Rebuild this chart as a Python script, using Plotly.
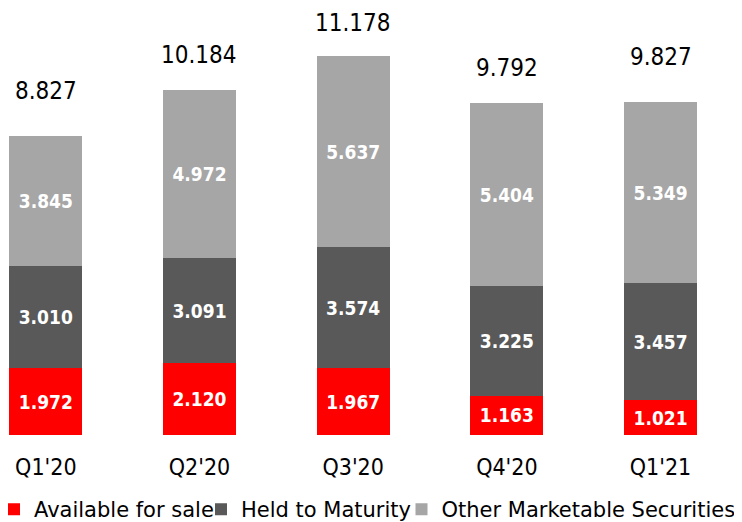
import plotly.graph_objects as go

categories = ["Q1'20", "Q2'20", "Q3'20", "Q4'20", "Q1'21"]
available_for_sale = [1.972, 2.120, 1.967, 1.163, 1.021]
held_to_maturity = [3.010, 3.091, 3.574, 3.225, 3.457]
other_marketable = [3.845, 4.972, 5.637, 5.404, 5.349]
totals = [8.827, 10.184, 11.178, 9.792, 9.827]

FONT_C = "DejaVu Sans Condensed, DejaVu Sans, sans-serif"
FONT_N = "DejaVu Sans, sans-serif"
xs = list(range(len(categories)))
W, H = 734, 514

# label offsets above each bar (px), presentational only
total_label_shift = [45, 35, 33, 35, 45]
# legend block left edges (px), presentational only
legend_left_px = [-14, 193, 393.5]

def fmt(v):
    return f"{v:.3f}"

series = [
    ("Available for sale", available_for_sale, "#FF0000"),
    ("Held to Maturity", held_to_maturity, "#595959"),
    ("Other Marketable Securities", other_marketable, "#A6A6A6"),
]
legend_ids = ["legend", "legend2", "legend3"]

fig = go.Figure()
for (name, vals, color), lid in zip(series, legend_ids):
    fig.add_trace(go.Bar(
        x=xs, y=vals, name=name, marker=dict(color=color, line=dict(width=0)),
        width=0.475, legend=lid,
        text=[fmt(v) for v in vals], textposition="inside",
        insidetextanchor="middle", textangle=0,
        textfont=dict(family=FONT_C, size=19, color="white", weight="bold"),
        hoverinfo="skip",
    ))

for x, t, s in zip(xs, totals, total_label_shift):
    fig.add_annotation(x=x, y=t, text=fmt(t), showarrow=False,
                       yshift=s, yanchor="middle",
                       font=dict(family=FONT_C, size=24, color="black"))

legend_common = dict(orientation="h", xanchor="left", y=-0.1747, yanchor="middle",
                     font=dict(family=FONT_N, size=21, color="black"),
                     bgcolor="rgba(0,0,0,0)", itemwidth=30)

fig.update_layout(
    barmode="stack",
    width=W, height=H,
    margin=dict(l=0, r=0, t=0, b=87, autoexpand=False),
    plot_bgcolor="white", paper_bgcolor="white",
    font=dict(family=FONT_C, color="black"),
    uniformtext=dict(minsize=19, mode="show"),
    xaxis=dict(range=[-0.246, 4.530], tickvals=xs, ticktext=categories,
               showgrid=False, zeroline=False, showline=False, ticks="",
               tickfont=dict(family=FONT_C, size=23, color="black"),
               ticklabelstandoff=16),
    yaxis=dict(range=[0, 12.596], visible=False),
    legend=dict(x=legend_left_px[0] / W, **legend_common),
    legend2=dict(x=legend_left_px[1] / W, **legend_common),
    legend3=dict(x=legend_left_px[2] / W, **legend_common),
    showlegend=True,
)

fig.write_html("out.html")
